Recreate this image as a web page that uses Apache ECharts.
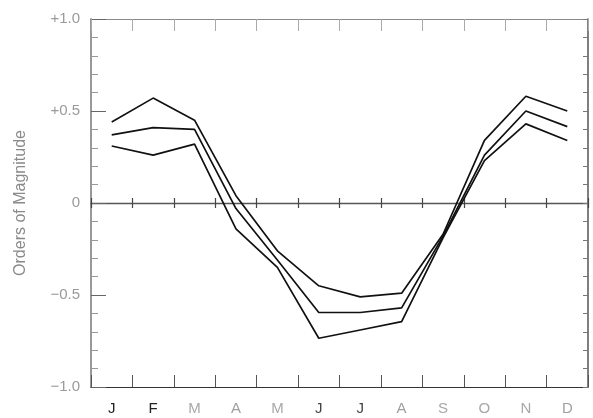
<!DOCTYPE html>
<html>
<head>
<meta charset="utf-8">
<script src="https://cdn.jsdelivr.net/npm/echarts@6/dist/echarts.min.js"></script>
<style>
  html, body { margin: 0; padding: 0; background: #fff; }
  #chart { width: 593px; height: 418px; }
</style>
</head>
<body>
<div id="chart"></div>
<script>
// Months along the bottom
const months = ['J', 'F', 'M', 'A', 'M', 'J', 'J', 'A', 'S', 'O', 'N', 'D'];

// Seasonal deviation, in orders of magnitude: upper, middle and lower curves
const upperCurve  = [0.44, 0.57, 0.45, 0.04, -0.26, -0.45, -0.51, -0.49, -0.17, 0.34, 0.58, 0.50];
const middleCurve = [0.37, 0.41, 0.40, -0.03, -0.31, -0.595, -0.595, -0.57, -0.18, 0.26, 0.50, 0.415];
const lowerCurve  = [0.31, 0.26, 0.32, -0.14, -0.35, -0.735, -0.69, -0.645, -0.19, 0.23, 0.43, 0.34];

// Value-axis tick labels
const yTickValues = [-1, -0.5, 0, 0.5, 1];
const yTickLabels = ['\u22121.0', '\u22120.5', '0', '+0.5', '+1.0'];

// Month label ink (the early months print darker)
const monthInk = ['#222', '#222', '#a8a8a8', '#a0a0a0', '#a8a8a8', '#444', '#444',
                  '#a0a0a0', '#a8a8a8', '#a8a8a8', '#a8a8a8', '#a0a0a0'];

const FONT = '"Liberation Sans", Arial, sans-serif';
const G = { left: 91, right: 5, top: 19, height: 368 };
const half = G.height / 2;

const rich = {};
monthInk.forEach((c, i) => { rich['m' + i] = { color: c, fontSize: 15, fontFamily: FONT }; });

const chart = echarts.init(document.getElementById('chart'), null, { renderer: 'canvas' });

chart.setOption({
  backgroundColor: '#fff',
  animation: false,
  grid: [
    { left: G.left, right: G.right, top: G.top, height: G.height, outerBoundsMode: 'none' },
    // upper half, its bottom edge is the zero line
    { left: G.left, right: G.right, top: G.top, height: half, outerBoundsMode: 'none' },
    // lower half, its top edge is the zero line
    { left: G.left, right: G.right, top: G.top + half, height: half, outerBoundsMode: 'none' }
  ],
  xAxis: [
    {
      gridIndex: 0, type: 'category', data: months, position: 'bottom', boundaryGap: true,
      axisLine: { show: true, onZero: false, lineStyle: { color: '#333', width: 1.2 } },
      axisTick: { show: true, interval: 0, inside: true, length: 12, lineStyle: { color: '#555', width: 1 } },
      axisLabel: {
        interval: 0, margin: 14,
        formatter: (v, i) => '{m' + i + '|' + v + '}',
        rich: rich
      },
      splitLine: { show: false }
    },
    {
      gridIndex: 0, type: 'category', data: months, position: 'top', boundaryGap: true,
      axisLine: { show: true, onZero: false, lineStyle: { color: '#8a8a8a', width: 1.2 } },
      axisTick: { show: true, interval: 0, inside: true, length: 12, lineStyle: { color: '#aaa', width: 1 } },
      axisLabel: { show: false },
      splitLine: { show: false }
    },
    {
      gridIndex: 1, type: 'category', data: months, position: 'bottom', boundaryGap: true,
      axisLine: { show: true, onZero: false, lineStyle: { color: '#555', width: 1.3 } },
      axisTick: { show: true, interval: 0, inside: true, length: 5, lineStyle: { color: '#444', width: 1.2 } },
      axisLabel: { show: false },
      splitLine: { show: false }
    },
    {
      gridIndex: 2, type: 'category', data: months, position: 'top', boundaryGap: true,
      axisLine: { show: false, onZero: false },
      axisTick: { show: true, interval: 0, inside: true, length: 5, lineStyle: { color: '#444', width: 1.2 } },
      axisLabel: { show: false },
      splitLine: { show: false }
    }
  ],
  yAxis: [
    {
      gridIndex: 0, type: 'value', position: 'left', min: -1, max: 1, interval: 0.5,
      name: 'Orders of Magnitude', nameLocation: 'middle', nameRotate: 90, nameGap: 62,
      nameTextStyle: { color: '#8a8a8a', fontSize: 16, fontFamily: FONT },
      axisLine: { show: true, onZero: false, lineStyle: { color: '#999', width: 2 } },
      axisTick: { show: true, inside: true, length: 15, lineStyle: { color: '#666', width: 1 } },
      minorTick: { show: true, splitNumber: 5, length: 7, lineStyle: { color: '#999', width: 1 } },
      axisLabel: {
        margin: 11, color: '#9a9a9a', fontSize: 15, fontFamily: FONT,
        formatter: v => {
          const k = yTickValues.findIndex(t => Math.abs(t - v) < 1e-9);
          return k >= 0 ? yTickLabels[k] : '';
        }
      },
      splitLine: { show: false }
    },
    {
      gridIndex: 0, type: 'value', position: 'right', min: -1, max: 1, interval: 0.1,
      axisLine: { show: true, onZero: false, lineStyle: { color: '#555', width: 1.5 } },
      axisTick: { show: true, inside: true, length: 5, lineStyle: { color: '#777', width: 1 } },
      axisLabel: { show: false },
      splitLine: { show: false }
    },
    { gridIndex: 1, type: 'value', show: false, min: 0, max: 1 },
    { gridIndex: 2, type: 'value', show: false, min: 0, max: 1 }
  ],
  series: [upperCurve, middleCurve, lowerCurve].map(d => ({
    type: 'line', xAxisIndex: 0, yAxisIndex: 0, data: d,
    symbol: 'none', smooth: false,
    lineStyle: { color: '#111', width: 1.7 },
    z: 5
  }))
});
</script>
</body>
</html>
